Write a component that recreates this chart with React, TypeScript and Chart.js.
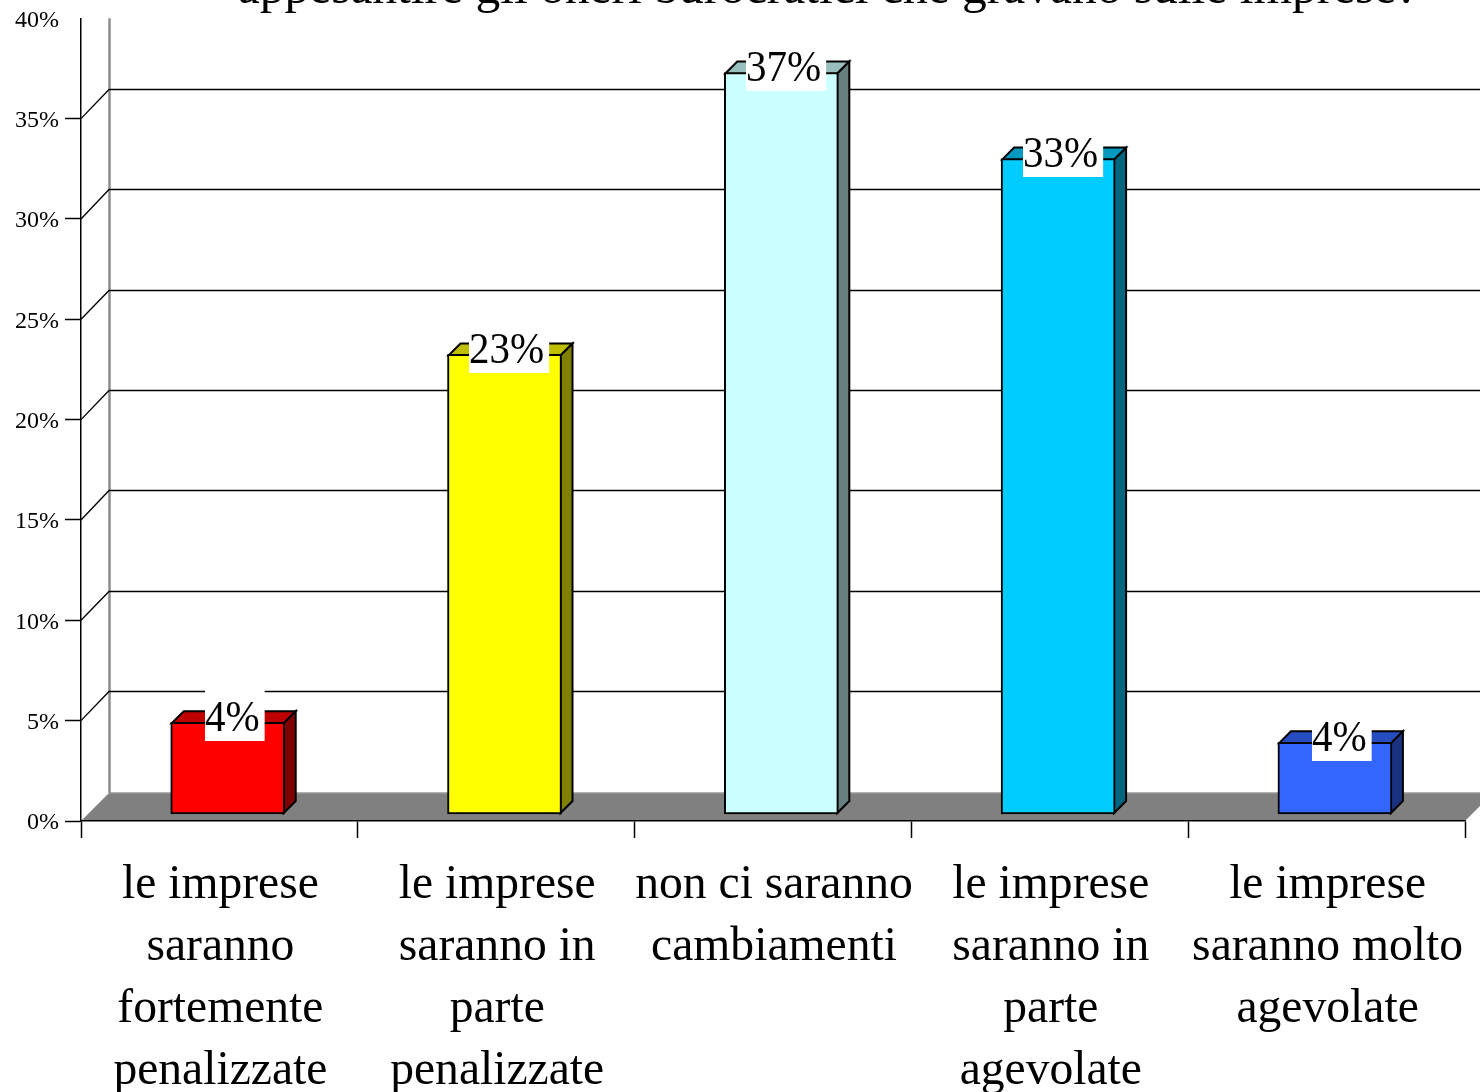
import React, { useEffect, useRef } from "react";
import { Chart, registerables } from "chart.js";

Chart.register(...registerables);

const titleText = "appesantire gli oneri burocratici che gravano sulle imprese?";
const categories = [
  ["le imprese", "saranno", "fortemente", "penalizzate"],
  ["le imprese", "saranno in", "parte", "penalizzate"],
  ["non ci saranno", "cambiamenti"],
  ["le imprese", "saranno in", "parte", "agevolate"],
  ["le imprese", "saranno molto", "agevolate"],
];
const barHeights = [4.57, 22.9, 36.95, 32.66, 3.57];
const valueLabels = ["4%", "23%", "37%", "33%", "4%"];
const frontColors = ["#ff0000", "#ffff00", "#ccffff", "#00ccff", "#3366ff"];
const topColors = ["#bf0000", "#bfbf00", "#99bfbf", "#0099bf", "#264dbf"];
const sideColors = ["#800000", "#808000", "#668080", "#006680", "#1a3380"];

const SERIF = '"Liberation Serif"';
const WALL_DX = 28;
const WALL_DY = 29;
const FLOOR_DY = 28;
const BAR_DX = 12;
const BAR_DY = 12;
const AREA_TOP = 18.3;
const AREA_BOTTOM = 821;

const scenePlugin = {
  id: "scene3d",
  afterLayout(chart: any) {
    [chart.scales.y, chart.scales.y2].forEach((s: any) => {
      s.top = AREA_TOP;
      s.bottom = AREA_BOTTOM;
      s.height = AREA_BOTTOM - AREA_TOP;
      s.configure();
    });
  },
  beforeDraw(chart: any) {
    const { ctx, width, chartArea } = chart;
    const yS = chart.scales.y;
    const left = chartArea.left;
    const right = chartArea.right;
    const y0 = yS.getPixelForValue(0);
    const backX = left + WALL_DX;
    ctx.save();
    ctx.fillStyle = "#ffffff";
    ctx.fillRect(0, 0, width, chart.height);

    // title: only the last line falls inside the frame
    ctx.fillStyle = "#000000";
    ctx.font = `49.5px ${SERIF}`;
    ctx.textAlign = "center";
    ctx.textBaseline = "alphabetic";
    ctx.fillText(titleText, 828, 3);

    // floor
    ctx.beginPath();
    ctx.moveTo(left, y0);
    ctx.lineTo(backX, y0 - FLOOR_DY);
    ctx.lineTo(right + WALL_DX, y0 - FLOOR_DY);
    ctx.lineTo(right, y0);
    ctx.closePath();
    ctx.fillStyle = "#808080";
    ctx.fill();
    ctx.strokeStyle = "#999999";
    ctx.lineWidth = 1.5;
    ctx.beginPath();
    ctx.moveTo(backX, y0 - FLOOR_DY);
    ctx.lineTo(right + WALL_DX, y0 - FLOOR_DY);
    ctx.stroke();

    // back wall edge
    ctx.strokeStyle = "#8c8c8c";
    ctx.lineWidth = 2.5;
    ctx.beginPath();
    ctx.moveTo(backX + 0.5, AREA_TOP);
    ctx.lineTo(backX + 0.5, y0 - FLOOR_DY);
    ctx.stroke();

    // wall grid lines
    ctx.strokeStyle = "#000000";
    ctx.lineWidth = 1.3;
    yS.ticks.forEach((t: any) => {
      if (t.value <= 0 || t.value >= yS.max) return;
      const fy = yS.getPixelForValue(t.value);
      const py = Math.floor(fy - WALL_DY) + 0.5;
      ctx.beginPath();
      ctx.moveTo(left, fy);
      ctx.lineTo(backX, py);
      ctx.lineTo(width, py);
      ctx.stroke();
    });
    ctx.restore();
  },
  beforeDatasetsDraw(chart: any) {
    const { ctx } = chart;
    const meta = chart.getDatasetMeta(0);
    ctx.save();
    ctx.strokeStyle = "#000000";
    ctx.lineWidth = 2;
    ctx.lineJoin = "miter";
    meta.data.forEach((bar: any, i: number) => {
      const half = bar.width / 2;
      const l = bar.x - half + 1;
      const r = bar.x + half - 1;
      const t = bar.y + 1;
      const b = bar.base - 1;
      ctx.fillStyle = topColors[i];
      ctx.beginPath();
      ctx.moveTo(l, t);
      ctx.lineTo(l + BAR_DX, t - BAR_DY);
      ctx.lineTo(r + BAR_DX, t - BAR_DY);
      ctx.lineTo(r, t);
      ctx.closePath();
      ctx.fill();
      ctx.stroke();
      ctx.fillStyle = sideColors[i];
      ctx.beginPath();
      ctx.moveTo(r, t);
      ctx.lineTo(r + BAR_DX, t - BAR_DY);
      ctx.lineTo(r + BAR_DX, b - BAR_DY);
      ctx.lineTo(r, b);
      ctx.closePath();
      ctx.fill();
      ctx.stroke();
    });
    ctx.restore();
  },
  afterDatasetsDraw(chart: any) {
    const { ctx } = chart;
    const meta = chart.getDatasetMeta(0);
    ctx.save();
    ctx.font = `41px ${SERIF}`;
    ctx.textAlign = "left";
    ctx.textBaseline = "alphabetic";
    meta.data.forEach((bar: any, i: number) => {
      const label = valueLabels[i];
      const w = ctx.measureText(label).width + 5;
      const boxLeft = Math.round(bar.x - w * 0.636 + 15.5);
      const boxBottom = Math.round(bar.y + 18.5);
      ctx.fillStyle = "#ffffff";
      ctx.fillRect(boxLeft, boxBottom - 52, w, 52);
      ctx.fillStyle = "#000000";
      ctx.save();
      ctx.translate(boxLeft, boxBottom - 10);
      ctx.scale(1, 1.1);
      ctx.fillText(label, 0, 0);
      ctx.restore();
    });
    ctx.restore();
  },
};

export default function App() {
  const ref = useRef<HTMLCanvasElement | null>(null);
  useEffect(() => {
    document.body.style.margin = "0";
    document.body.style.overflow = "hidden";
    const chart = new Chart(ref.current as HTMLCanvasElement, {
      type: "bar",
      data: {
        labels: categories as any,
        datasets: [
          {
            data: barHeights.map((v, i) => ({ x: i, y: v })) as any,
            xAxisID: "x2",
            yAxisID: "y2",
            backgroundColor: frontColors,
            borderColor: "#000000",
            borderWidth: 2,
            borderSkipped: false,
            barThickness: 114,
          },
        ],
      },
      plugins: [scenePlugin],
      options: {
        responsive: false,
        animation: false,
        layout: { padding: { top: 18, right: 15, left: 0, bottom: 0 }, autoPadding: false },
        plugins: { legend: { display: false }, tooltip: { enabled: false }, title: { display: false } },
        scales: {
          x: {
            type: "category",
            offset: true,
            afterFit: (s: any) => {
              s.height = 271;
            },
            border: { color: "#000000", width: 1.5 },
            grid: {
              offset: true,
              drawOnChartArea: false,
              drawTicks: true,
              tickLength: 17,
              tickColor: "#000000",
              tickWidth: 1.5,
            },
            ticks: {
              color: "#000000",
              maxRotation: 0,
              minRotation: 0,
              autoSkip: false,
              padding: 16,
              labelOffset: 1,
              font: { family: SERIF, size: 47.6, lineHeight: "62px" },
            },
          },
          y: {
            type: "linear",
            min: 0,
            max: 40,
            afterFit: (s: any) => {
              s.width = 81;
            },
            border: { color: "#000000", width: 1.5 },
            grid: {
              drawOnChartArea: false,
              tickLength: 16,
              tickWidth: 1.5,
              tickColor: (c: any) => (c.tick && c.tick.value === 40 ? "rgba(0,0,0,0)" : "#000000"),
            },
            ticks: {
              stepSize: 5,
              color: "#000000",
              padding: 6,
              labelOffset: 2,
              callback: (v: any) => v + "%",
              font: { family: SERIF, size: 24 },
            },
          },
          x2: { type: "linear", display: false, offset: false, min: -0.53, max: 4.47 },
          y2: { type: "linear", display: false, min: -0.349, max: 39.651 },
        },
      } as any,
    });
    return () => chart.destroy();
  }, []);
  return <canvas ref={ref} width={1480} height={1092} style={{ display: "block" }} />;
}
